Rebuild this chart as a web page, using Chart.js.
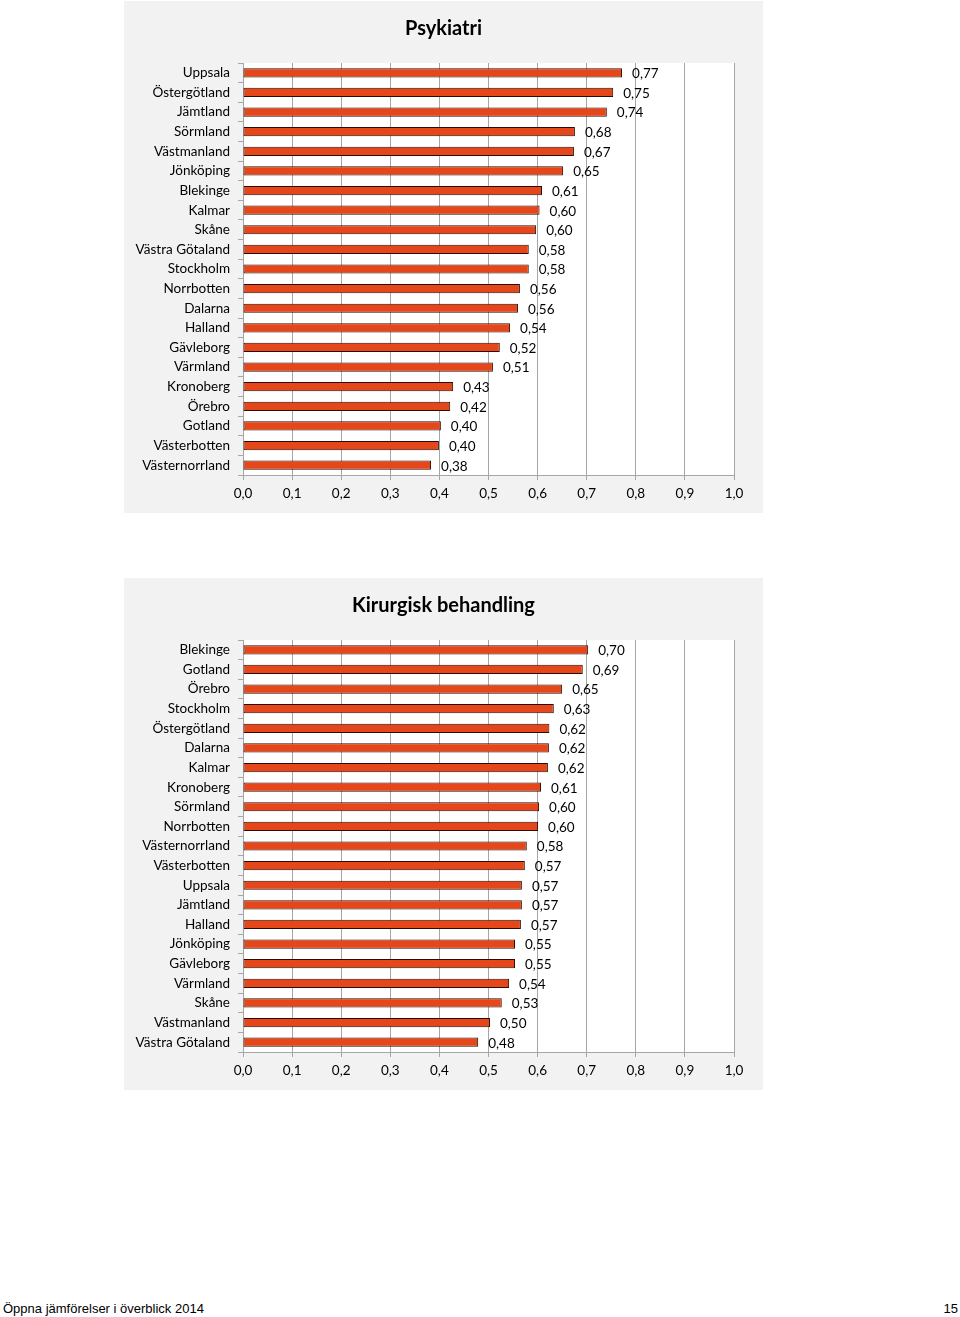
<!DOCTYPE html>
<html>
<head>
<meta charset="utf-8">
<script src="https://cdn.jsdelivr.net/npm/chart.js@4.4.1/dist/chart.umd.min.js"></script>
<style>
  body { margin: 0; background: #fff; width: 960px; height: 1317px; position: relative; font-family: "Liberation Sans", Arial, sans-serif; }
  .panel { position: absolute; left: 124px; width: 639px; height: 512px; background: #f2f2f2; }
  .foot { position: absolute; top: 1301px; font-size: 13px; color: #000; }
</style>
</head>
<body>
<div class="panel" style="top:1px"><canvas id="psykChart" width="639" height="512"></canvas></div>
<div class="panel" style="top:578px"><canvas id="kirChart" width="639" height="512"></canvas></div>
<div class="foot" style="left:3px">Öppna jämförelser i överblick 2014</div>
<div class="foot" style="right:2px">15</div>

<script>
// Psykiatri
const psykLabels = ['Uppsala', 'Östergötland', 'Jämtland', 'Sörmland', 'Västmanland', 'Jönköping', 'Blekinge',
    'Kalmar', 'Skåne', 'Västra Götaland', 'Stockholm', 'Norrbotten', 'Dalarna', 'Halland', 'Gävleborg',
    'Värmland', 'Kronoberg', 'Örebro', 'Gotland', 'Västerbotten', 'Västernorrland'];
const psykValues = [0.772, 0.754, 0.741, 0.676, 0.674, 0.652, 0.609, 0.604, 0.597, 0.582, 0.582,
    0.564, 0.560, 0.544, 0.523, 0.509, 0.428, 0.422, 0.403, 0.399, 0.383];

// Kirurgisk behandling
const kirLabels = ['Blekinge', 'Gotland', 'Örebro', 'Stockholm', 'Östergötland', 'Dalarna', 'Kalmar',
    'Kronoberg', 'Sörmland', 'Norrbotten', 'Västernorrland', 'Västerbotten', 'Uppsala', 'Jämtland',
    'Halland', 'Jönköping', 'Gävleborg', 'Värmland', 'Skåne', 'Västmanland', 'Västra Götaland'];
const kirValues = [0.703, 0.692, 0.650, 0.633, 0.624, 0.623, 0.621, 0.607, 0.603, 0.601, 0.578,
    0.574, 0.568, 0.568, 0.566, 0.554, 0.554, 0.542, 0.527, 0.503, 0.479];

const xTicks = [0, 0.1, 0.2, 0.3, 0.4, 0.5, 0.6, 0.7, 0.8, 0.9, 1.0];

const FONT = 'Lato';
const comma = (v, d) => v.toFixed(d).replace('.', ',');

// white plot area
const plotBg = {
    id: 'plotBg',
    beforeDraw(chart) {
        const a = chart.chartArea, ctx = chart.ctx;
        ctx.save();
        ctx.fillStyle = '#ffffff';
        ctx.fillRect(a.left, a.top, a.right - a.left, a.bottom - a.top);
        ctx.restore();
    }
};

// title centred on the whole panel
const panelTitle = {
    id: 'panelTitle',
    afterDraw(chart, args, opts) {
        const ctx = chart.ctx;
        ctx.save();
        ctx.font = 'bold 20px ' + FONT;
        ctx.fillStyle = '#000';
        ctx.textAlign = 'center';
        ctx.textBaseline = 'middle';
        ctx.fillText(opts.text, chart.width / 2, 28);
        ctx.restore();
    }
};

// value labels right of the bars
const valueLabels = {
    id: 'valueLabels',
    afterDatasetsDraw(chart) {
        const ctx = chart.ctx;
        const meta = chart.getDatasetMeta(0);
        const data = chart.data.datasets[0].data;
        ctx.save();
        ctx.font = '13.5px ' + FONT;
        ctx.fillStyle = '#000';
        ctx.textAlign = 'left';
        ctx.textBaseline = 'middle';
        meta.data.forEach((bar, i) => {
            ctx.fillText(comma(data[i], 2), bar.x + 10, bar.y + 1);
        });
        ctx.restore();
    }
};

function makeChart(id, title, labels, values) {
    new Chart(document.getElementById(id), {
        type: 'bar',
        data: {
            labels: labels,
            datasets: [{
                data: values,
                backgroundColor: '#e5461a',
                borderColor: '#2a0c04',
                borderWidth: 1,
                borderSkipped: false,
                barPercentage: 0.47,
                categoryPercentage: 1
            }]
        },
        options: {
            indexAxis: 'y',
            responsive: false,
            animation: false,
            layout: { padding: { left: 0, right: 29, top: 62, bottom: 0 } },
            plugins: {
                legend: { display: false },
                tooltip: { enabled: false },
                title: { display: false },
                panelTitle: { text: title }
            },
            scales: {
                x: {
                    min: 0,
                    max: 1,
                    afterBuildTicks: s => { s.ticks = xTicks.map(v => ({ value: v })); },
                    afterFit: s => { s.height = 38; },
                    ticks: {
                        color: '#000',
                        font: { family: FONT, size: 13.5 },
                        padding: 6,
                        callback: v => comma(v, 1)
                    },
                    grid: { color: '#a6a6a6', tickLength: 5 },
                    border: { color: '#a6a6a6' }
                },
                y: {
                    afterFit: s => { s.width = 119; },
                    ticks: {
                        color: '#000',
                        font: { family: FONT, size: 13.5 },
                        padding: 8
                    },
                    grid: { drawOnChartArea: false, color: '#a6a6a6', tickLength: 5 },
                    border: { color: '#a6a6a6' }
                }
            }
        },
        plugins: [plotBg, panelTitle, valueLabels]
    });
}

makeChart('psykChart', 'Psykiatri', psykLabels, psykValues);
makeChart('kirChart', 'Kirurgisk behandling', kirLabels, kirValues);
</script>
</body>
</html>
